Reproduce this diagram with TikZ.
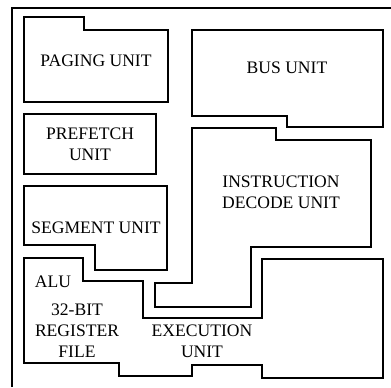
\documentclass[tikz,border=0pt]{standalone}
\usepackage{fontspec}
\setmainfont{Liberation Serif}
\usetikzlibrary{positioning}

\begin{document}
\begin{tikzpicture}[x=0.02cm,y=-0.02cm,
	unitline/.style={line width=0.371mm},
	unitlabel/.style={align=center,anchor=center,font=\fontsize{10}{12}\selectfont}]
				\useasboundingbox (0,0) rectangle (391,387);
				% Outer chip frame
				\draw[line width=0.3mm] (12,387) -- (12,8) -- (391,8);
				% Paging unit
				\draw[unitline] (24,17) -- (84,17) -- (84,30) -- (168,30) -- (168,102) -- (24,102) -- cycle;
				\node[unitlabel] (paging) at (96,61) {PAGING UNIT};
				% Prefetch unit
				\draw[unitline] (24,114) rectangle (156,174);
				\node[unitlabel] (prefetch) at (90,144) {PREFETCH\\UNIT};
				% Segment unit
				\draw[unitline] (24,186) -- (167,186) -- (167,270) -- (95,270) -- (95,245) -- (24,245) -- cycle;
				\node[unitlabel] (segment) at (96,228) {SEGMENT UNIT};
				% Bus unit
				\draw[unitline] (192,30) -- (383,30) -- (383,127) -- (287,127) -- (287,116) -- (192,116) -- cycle;
				\node[unitlabel] (bus) at (287,68) {BUS UNIT};
				% Instruction decode unit
				\draw[unitline] (192,128) -- (276,128) -- (276,140) -- (371,140) -- (371,247) -- (251,247)
					-- (251,307) -- (155,307) -- (155,283) -- (192,283) -- cycle;
				\node[unitlabel] (decode) at (281,192) {INSTRUCTION\\DECODE UNIT};
				% Execution unit (ALU + register file)
				\draw[unitline] (24,258) -- (83,258) -- (83,281) -- (143,281) -- (143,318) -- (262,318)
					-- (262,259) -- (383,259) -- (383,378) -- (262,378) -- (262,365) -- (192,365)
					-- (192,376) -- (119,376) -- (119,363) -- (24,363) -- cycle;
				\node[unitlabel] (alu) at (53,282) {ALU};
				\node[unitlabel] (regfile) at (77,331) {32-BIT\\REGISTER\\FILE};
				\node[unitlabel] (execution) at (202,341) {EXECUTION\\UNIT};
\end{tikzpicture}
\end{document}
